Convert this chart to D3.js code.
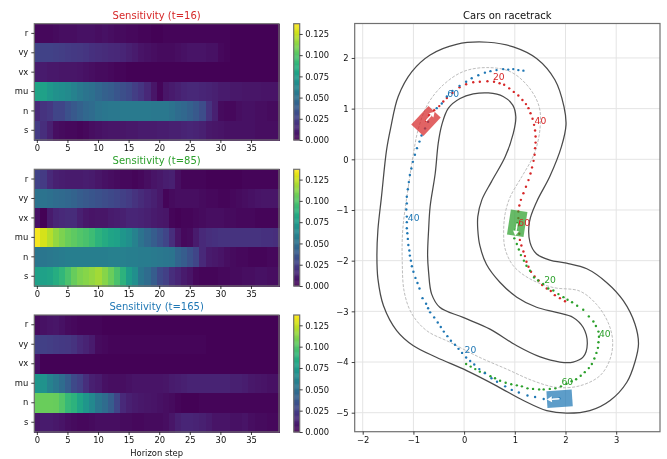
<!DOCTYPE html>
<html><head><meta charset="utf-8">
<script src="https://cdn.jsdelivr.net/npm/d3@7"></script>
<style>html,body{margin:0;padding:0;background:#fff}svg{display:block;font-family:"DejaVu Sans",sans-serif;filter:blur(.35px)}</style>
</head><body><svg id="c" width="667" height="459"></svg>
<script>
const channels=["r","vy","vx","mu","n","s"];
const horizonTicks=[0,5,10,15,20,25,30,35];
const colorTicks=[0,0.025,0.05,0.075,0.1,0.125];
const vmax=0.1371;
const titles=["Sensitivity (t=16)","Sensitivity (t=85)","Sensitivity (t=165)"];
const carColors=["#d62728","#2ca02c","#1f77b4"];

const sens16=[
[.003,.003,.003,.004,.005,.005,.005,.006,.006,.006,.005,.006,.005,.004,.004,.003,.003,.002,.002,.001,.001,.002,.002,.002,.002,.002,.002,.002,.002,.002,.002,.002,.001,.001,.001,.001,.001,.001,.001,.001],
[.028,.027,.027,.026,.025,.024,.023,.022,.021,.019,.018,.017,.016,.015,.014,.012,.010,.007,.006,.005,.004,.004,.004,.005,.006,.007,.007,.007,.006,.006,.003,.002,.001,.001,.001,.001,.001,.001,.001,.001],
[.010,.010,.009,.009,.008,.008,.008,.007,.006,.005,.004,.004,.003,.002,.002,.001,.001,.001,.001,.001,.001,.001,.001,.001,.001,.001,.001,.001,.001,.001,.001,.001,.001,.001,.001,.001,.001,.001,.001,.001],
[.080,.078,.073,.069,.067,.065,.061,.056,.053,.050,.046,.042,.040,.036,.033,.030,.025,.021,.015,.008,.002,.008,.010,.012,.014,.015,.015,.014,.013,.012,.010,.010,.009,.009,.008,.008,.008,.007,.007,.007],
[.016,.020,.022,.028,.028,.034,.038,.042,.046,.048,.052,.054,.055,.055,.056,.056,.056,.056,.056,.055,.055,.055,.052,.048,.046,.042,.038,.032,.020,.012,.004,.003,.003,.005,.006,.006,.005,.005,.004,.004],
[.024,.018,.012,.005,.004,.003,.003,.002,.003,.005,.006,.007,.008,.008,.008,.009,.009,.010,.010,.010,.011,.011,.012,.012,.013,.014,.013,.012,.009,.008,.007,.006,.006,.006,.006,.006,.005,.005,.005,.005]];
const sens85=[
[.027,.024,.016,.012,.011,.010,.010,.010,.011,.010,.008,.006,.005,.004,.003,.003,.002,.003,.005,.007,.009,.011,.012,.005,.002,.002,.002,.002,.001,.001,.001,.001,.001,.001,.002,.002,.002,.002,.002,.002],
[.052,.052,.050,.048,.047,.045,.043,.040,.038,.036,.034,.032,.030,.028,.026,.024,.020,.017,.014,.012,.009,.002,.004,.005,.005,.005,.005,.004,.003,.003,.002,.002,.003,.004,.005,.006,.007,.008,.008,.008],
[.006,.001,.010,.014,.016,.017,.017,.012,.009,.007,.008,.008,.010,.011,.012,.014,.014,.013,.012,.010,.009,.008,.002,.001,.002,.002,.003,.004,.005,.005,.005,.004,.004,.003,.003,.003,.002,.002,.002,.002],
[.135,.128,.122,.115,.110,.106,.103,.100,.098,.094,.088,.084,.080,.078,.072,.068,.060,.052,.046,.040,.034,.028,.018,.008,.003,.004,.010,.016,.018,.019,.020,.020,.020,.020,.020,.020,.020,.019,.019,.018],
[.054,.054,.055,.056,.057,.058,.058,.058,.058,.058,.058,.058,.059,.059,.059,.058,.058,.057,.057,.056,.055,.054,.053,.044,.040,.034,.028,.016,.010,.009,.007,.005,.004,.003,.003,.002,.002,.002,.003,.003],
[.078,.078,.080,.085,.090,.098,.105,.110,.112,.115,.118,.112,.106,.098,.088,.076,.068,.054,.048,.040,.030,.026,.018,.014,.010,.007,.003,.002,.002,.002,.003,.003,.004,.004,.005,.005,.006,.006,.005,.005]];
const sens165=[
[.004,.006,.007,.008,.006,.004,.003,.002,.002,.002,.002,.001,.001,.001,.001,.001,.001,.001,.001,.001,.001,.001,.001,.001,.001,.001,.001,.001,.001,.001,.001,.001,.001,.001,.001,.001,.001,.001,.001,.001],
[.026,.026,.025,.024,.023,.022,.020,.016,.013,.010,.004,.003,.002,.002,.002,.002,.002,.002,.002,.002,.002,.002,.002,.002,.002,.002,.002,.002,.001,.001,.001,.001,.001,.001,.001,.001,.001,.001,.001,.001],
[.006,.001,.001,.001,.001,.001,.001,.001,.001,.001,.001,.001,.001,.001,.001,.001,.001,.001,.001,.001,.001,.001,.001,.001,.001,.001,.001,.001,.001,.001,.001,.001,.001,.001,.001,.001,.001,.001,.001,.001],
[.072,.070,.061,.055,.048,.040,.030,.026,.018,.012,.010,.006,.005,.005,.005,.006,.007,.007,.007,.007,.007,.008,.010,.011,.012,.013,.013,.013,.013,.013,.013,.013,.012,.012,.011,.009,.008,.007,.006,.006],
[.106,.106,.106,.105,.100,.092,.088,.080,.072,.064,.054,.048,.040,.028,.016,.012,.010,.009,.008,.007,.006,.005,.004,.002,.001,.001,.001,.002,.002,.002,.002,.002,.002,.002,.002,.002,.002,.002,.002,.002],
[.008,.010,.010,.009,.007,.005,.004,.003,.003,.004,.005,.005,.005,.005,.004,.004,.003,.003,.004,.004,.004,.005,.008,.012,.014,.014,.013,.012,.010,.007,.007,.007,.006,.006,.007,.005,.004,.004,.003,.003]];
const panels=[sens16,sens85,sens165];

const outerTrack=[[-1.70,-1.39],[-1.63,-.74],[-1.53,.18],[-1.45,.61],[-1.30,1.24],[-1.03,1.73],[-.67,2.06],[-.15,2.27],[.467,2.31],[.97,2.22],[1.43,1.99],[1.79,1.57],[1.97,1.04],[2.01,.68],[1.92,.25],[1.69,-.34],[1.43,-.84],[1.29,-1.23],[1.30,-1.64],[1.43,-1.87],[1.69,-1.99],[2.02,-2.05],[2.42,-2.16],[2.81,-2.43],[3.14,-2.79],[3.37,-3.25],[3.44,-3.64],[3.37,-4.0],[3.21,-4.4],[2.88,-4.76],[2.48,-4.96],[2.02,-5.01],[1.63,-4.96],[1.17,-4.76],[.64,-4.47],[.05,-4.17],[-.54,-3.91],[-1.0,-3.68],[-1.33,-3.38],[-1.59,-2.89],[-1.70,-2.36],[-1.72,-1.90]];
const innerTrack=[[-.70,-1.39],[-.67,-.93],[-.57,-.28],[-.51,.32],[-.44,.68],[-.31,1.01],[-.08,1.20],[.18,1.29],[.48,1.31],[.77,1.24],[.96,1.07],[1.02,.84],[.97,.51],[.81,.05],[.54,-.44],[.35,-.80],[.27,-1.13],[.27,-1.39],[.31,-1.70],[.44,-2.07],[.71,-2.43],[1.04,-2.72],[1.43,-2.92],[1.82,-3.02],[2.15,-3.12],[2.35,-3.32],[2.43,-3.64],[2.35,-3.90],[2.15,-4.0],[1.89,-4.0],[1.50,-3.90],[1.04,-3.68],[.51,-3.35],[-.02,-3.12],[-.48,-2.92],[-.64,-2.66],[-.70,-2.23],[-.72,-1.90]];
const centerTrack=[[-1.21,-1.39],[-1.10,-.54],[-1.01,.05],[-.90,.61],[-.71,1.10],[-.41,1.47],[-.02,1.73],[.44,1.81],[.91,1.73],[1.27,1.43],[1.48,1.04],[1.50,.64],[1.43,.25],[1.33,-.01],[1.14,-.34],[.91,-.74],[.81,-1.07],[.78,-1.44],[.81,-1.77],[.97,-2.10],[1.30,-2.36],[1.76,-2.53],[2.28,-2.6],[2.61,-2.86],[2.84,-3.22],[2.93,-3.58],[2.88,-3.94],[2.68,-4.27],[2.28,-4.47],[1.82,-4.5],[1.36,-4.37],[.84,-4.14],[.31,-3.91],[-.28,-3.61],[-.74,-3.38],[-1.03,-3.05],[-1.18,-2.62],[-1.22,-2.03]];

const redDots=[[-.75,.76],[-.69,.87],[-.59,.97],[-.49,1.05],[-.41,1.14],[-.34,1.21],[-.23,1.31],[-.09,1.42],[.04,1.48],[.18,1.52],[.31,1.53],[.46,1.54],[.59,1.53],[.70,1.50],[.79,1.47],[.89,1.40],[.98,1.33],[1.07,1.26],[1.15,1.17],[1.22,1.09],[1.27,1.01],[1.31,.91],[1.35,.80],[1.38,.68],[1.40,.57],[1.41,.45],[1.41,.33],[1.40,.22],[1.39,.09],[1.37,-.03],[1.34,-.16],[1.31,-.28],[1.27,-.41],[1.22,-.54],[1.17,-.67],[1.12,-.80],[1.09,-.91],[1.07,-1.03],[1.07,-1.16],[1.07,-1.30],[1.09,-1.47],[1.10,-1.59],[1.13,-1.70],[1.17,-1.82],[1.20,-1.91],[1.23,-2.02],[1.27,-2.12],[1.32,-2.22],[1.39,-2.31],[1.47,-2.39],[1.54,-2.48],[1.63,-2.55],[1.71,-2.60],[1.79,-2.68],[1.89,-2.74],[1.99,-2.80]];
const greenDots=[[1.05,-1.26],[1.02,-1.38],[.99,-1.56],[1.04,-1.67],[1.08,-1.78],[1.12,-1.89],[1.18,-2.0],[1.23,-2.10],[1.30,-2.20],[1.38,-2.33],[1.46,-2.39],[1.56,-2.46],[1.66,-2.55],[1.76,-2.59],[1.86,-2.66],[1.96,-2.72],[2.04,-2.77],[2.13,-2.82],[2.23,-2.89],[2.35,-2.97],[2.46,-3.10],[2.55,-3.20],[2.60,-3.29],[2.65,-3.40],[2.66,-3.50],[2.65,-3.61],[2.64,-3.72],[2.61,-3.82],[2.57,-3.93],[2.52,-4.04],[2.46,-4.12],[2.38,-4.20],[2.30,-4.27],[2.21,-4.34],[2.12,-4.38],[2.02,-4.43],[1.91,-4.48],[1.80,-4.52],[1.69,-4.53],[1.57,-4.54],[1.48,-4.54],[1.36,-4.53],[1.25,-4.52],[1.14,-4.48],[1.04,-4.46],[.93,-4.44],[.82,-4.41],[.71,-4.37],[.61,-4.32],[.52,-4.28],[.41,-4.21],[.31,-4.19],[.22,-4.14],[.13,-4.09],[.04,-4.04]];
const blueDots=[[1.88,-4.72],[1.73,-4.72],[1.57,-4.73],[1.40,-4.69],[1.25,-4.66],[1.08,-4.60],[.94,-4.55],[.81,-4.48],[.65,-4.39],[.54,-4.32],[.41,-4.22],[.30,-4.14],[.20,-4.05],[.12,-3.98],[.04,-3.91],[-.04,-3.82],[-.11,-3.74],[-.18,-3.66],[-.26,-3.58],[-.33,-3.49],[-.40,-3.40],[-.46,-3.31],[-.52,-3.22],[-.59,-3.12],[-.67,-3.02],[-.71,-2.94],[-.75,-2.85],[-.82,-2.74],[-.88,-2.55],[-.92,-2.44],[-.96,-2.34],[-1.0,-2.22],[-1.03,-2.11],[-1.05,-2.0],[-1.07,-1.90],[-1.08,-1.80],[-1.10,-1.69],[-1.11,-1.57],[-1.12,-1.46],[-1.13,-1.36],[-1.13,-1.24],[-1.13,-1.13],[-1.14,-.99],[-1.13,-.87],[-1.13,-.74],[-1.11,-.59],[-1.09,-.45],[-1.07,-.31],[-1.04,-.18],[-1.01,-.05],[-.97,.09],[-.93,.22],[-.88,.35],[-.84,.47],[-.77,.61],[-.71,.74],[-.63,.88],[-.54,1.01],[-.44,1.10],[-.34,1.24],[-.23,1.35],[-.09,1.45],[.04,1.53],[.15,1.60],[.28,1.66],[.41,1.71],[.52,1.74],[.64,1.76],[.77,1.78],[.87,1.77],[.97,1.78],[1.07,1.76],[1.17,1.75]];
const dotSets=[redDots,greenDots,blueDots];

const stepLabels=[
 [["20",.57,1.63],["40",1.39,.76],["60",1.07,-1.25]],
 [["20",1.58,-2.38],["40",2.66,-3.45],["60",1.92,-4.38]],
 [["20",.01,-3.76],["40",-1.11,-1.15],["60",-.33,1.29]]];
const carX=[-.752,1.047,1.883];
const carY=[.757,-1.262,-4.724];
const carHeading=[47,-98.9,183.8];
const carLength=.5, carWidth=.33, arrowLength=.25;
const xTicks=[-2,-1,0,1,2,3];
const yTicks=[-5,-4,-3,-2,-1,0,1,2];

const svg=d3.select("#c");
const fs=8.4, spine="#707070", ink="#111";
const color=d3.scaleSequential(d3.interpolateViridis).domain([0,vmax]);

function styleAxis(g){
  g.selectAll("path.domain").remove();
  g.selectAll(".tick line").attr("stroke",ink).attr("stroke-width",.8);
  g.selectAll("text").attr("fill",ink).style("font-size",fs+"px").style("font-family",'"DejaVu Sans"');
}
const hm=[{t:23.7,b:140},{t:169.3,b:286},{t:315,b:432}];
const L=34.3,R=279,cbL=293.7,cbR=299.7;
const steps=d3.range(40);
panels.forEach((rows,pi)=>{
  const {t,b}=hm[pi];
  const x=d3.scaleBand().domain(steps).range([L,R]);
  const y=d3.scaleBand().domain(channels).range([t,b]);
  const g=svg.append("g").attr("shape-rendering","crispEdges");
  rows.forEach((row,ri)=>{
    g.selectAll(null).data(row).join("rect")
      .attr("x",(d,i)=>x(i)).attr("width",x.bandwidth()+.6)
      .attr("y",y(channels[ri])).attr("height",y.bandwidth()+.6)
      .attr("fill",d=>color(d));
  });
  svg.append("rect").attr("x",L).attr("y",t).attr("width",R-L).attr("height",b-t)
    .attr("fill","none").attr("stroke",spine).attr("stroke-width",1.2);
  const xa=svg.append("g").attr("transform",`translate(0,${b})`)
    .call(d3.axisBottom(x).tickValues(horizonTicks).tickSize(3).tickPadding(2.5));
  styleAxis(xa);
  const ya=svg.append("g").attr("transform",`translate(${L},0)`)
    .call(d3.axisLeft(y).tickSize(3).tickPadding(3));
  styleAxis(ya);
  svg.append("text").text(titles[pi]).attr("x",(L+R)/2).attr("y",t-5)
    .attr("text-anchor","middle").attr("fill",carColors[pi]).style("font-size","10px");
  const cy=d3.scaleLinear().domain([0,vmax]).range([b,t]);
  const cg=svg.append("g");
  const levels=d3.range(0,vmax,vmax/128);
  cg.selectAll("rect").data(levels).join("rect")
    .attr("x",cbL).attr("width",cbR-cbL)
    .attr("y",d=>cy(d+vmax/128)).attr("height",(b-t)/128+.4)
    .attr("fill",d=>color(d));
  cg.append("rect").attr("x",cbL).attr("y",t).attr("width",cbR-cbL).attr("height",b-t)
    .attr("fill","none").attr("stroke",spine).attr("stroke-width",1.2);
  const ca=svg.append("g").attr("transform",`translate(${cbR},0)`)
    .call(d3.axisRight(cy).tickValues(colorTicks).tickFormat(d3.format(".3f")).tickSize(3).tickPadding(2.5));
  styleAxis(ca);
});
svg.append("text").text("Horizon step").attr("x",(L+R)/2).attr("y",456)
  .attr("text-anchor","middle").attr("fill",ink).style("font-size",fs+"px");

const pL=354.7,pR=660,pT=23.5,pB=431.7;
const X=d3.scaleLinear().domain([-2.158,3.864]).range([pL,pR]);
const Y=d3.scaleLinear().domain([-5.375,2.68]).range([pB,pT]);
const rg=svg.append("g");
rg.selectAll("line.gx").data(xTicks).join("line").attr("class","gx")
  .attr("x1",d=>X(d)).attr("x2",d=>X(d)).attr("y1",pT).attr("y2",pB)
  .attr("stroke","#e4e4e4").attr("stroke-width",1);
rg.selectAll("line.gy").data(yTicks).join("line").attr("class","gy")
  .attr("y1",d=>Y(d)).attr("y2",d=>Y(d)).attr("x1",pL).attr("x2",pR)
  .attr("stroke","#e4e4e4").attr("stroke-width",1);
const closed=d3.line().x(d=>X(d[0])).y(d=>Y(d[1])).curve(d3.curveCatmullRomClosed.alpha(.5));
rg.append("path").attr("d",closed(outerTrack)).attr("fill","none").attr("stroke","#4a4a4a").attr("stroke-width",1.25);
rg.append("path").attr("d",closed(innerTrack)).attr("fill","none").attr("stroke","#4a4a4a").attr("stroke-width",1.25);
rg.append("path").attr("d",closed(centerTrack)).attr("fill","none").attr("stroke","#b5b5b5").attr("stroke-width",.9).attr("stroke-dasharray","3,1.5");
dotSets.forEach((pts,i)=>{
  rg.selectAll(null).data(pts).join("circle")
    .attr("cx",d=>X(d[0])).attr("cy",d=>Y(d[1])).attr("r",1.2).attr("fill",carColors[i]);
});
carColors.forEach((c,i)=>{
  const cx=X(carX[i]),cy=Y(carY[i]);
  const pxL=X(carLength)-X(0),pxW=X(carWidth)-X(0);
  rg.append("rect").attr("x",cx-pxL/2).attr("y",cy-pxW/2).attr("width",pxL).attr("height",pxW)
    .attr("fill",c).attr("fill-opacity",.72)
    .attr("transform",`rotate(${-carHeading[i]} ${cx} ${cy})`);
  const a=carHeading[i]*Math.PI/180;
  const tx=carX[i]+arrowLength*Math.cos(a),ty=carY[i]+arrowLength*Math.sin(a);
  const sx=X(carX[i]),sy=Y(carY[i]),ex=X(tx),ey=Y(ty);
  const u=[(ex-sx),(ey-sy)],n=Math.hypot(u[0],u[1]),ux=u[0]/n,uy=u[1]/n,h=5,w=3;
  rg.append("line").attr("x1",sx).attr("y1",sy).attr("x2",ex-ux*h).attr("y2",ey-uy*h).attr("stroke","#fff").attr("stroke-width",1.5);
  rg.append("path").attr("fill","#fff")
    .attr("d",`M${ex},${ey}L${ex-ux*h-uy*w},${ey-uy*h+ux*w}L${ex-ux*h+uy*w},${ey-uy*h-ux*w}Z`);
});
stepLabels.forEach((ls,i)=>{
  rg.selectAll(null).data(ls).join("text").text(d=>d[0])
    .attr("x",d=>X(d[1])).attr("y",d=>Y(d[2])).attr("dy",".36em")
    .attr("fill",carColors[i]).style("font-size","9.2px");
});
rg.append("rect").attr("x",pL).attr("y",pT).attr("width",pR-pL).attr("height",pB-pT)
  .attr("fill","none").attr("stroke",spine).attr("stroke-width",1.2);
styleAxis(svg.append("g").attr("transform",`translate(0,${pB})`)
  .call(d3.axisBottom(X).tickValues(xTicks).tickFormat(d3.format("d")).tickSize(3).tickPadding(2.5)));
styleAxis(svg.append("g").attr("transform",`translate(${pL},0)`)
  .call(d3.axisLeft(Y).tickValues(yTicks).tickFormat(d3.format("d")).tickSize(3).tickPadding(3)));
svg.append("text").text("Cars on racetrack").attr("x",(pL+pR)/2).attr("y",pT-5)
  .attr("text-anchor","middle").attr("fill",ink).style("font-size","10px");
</script></body></html>
